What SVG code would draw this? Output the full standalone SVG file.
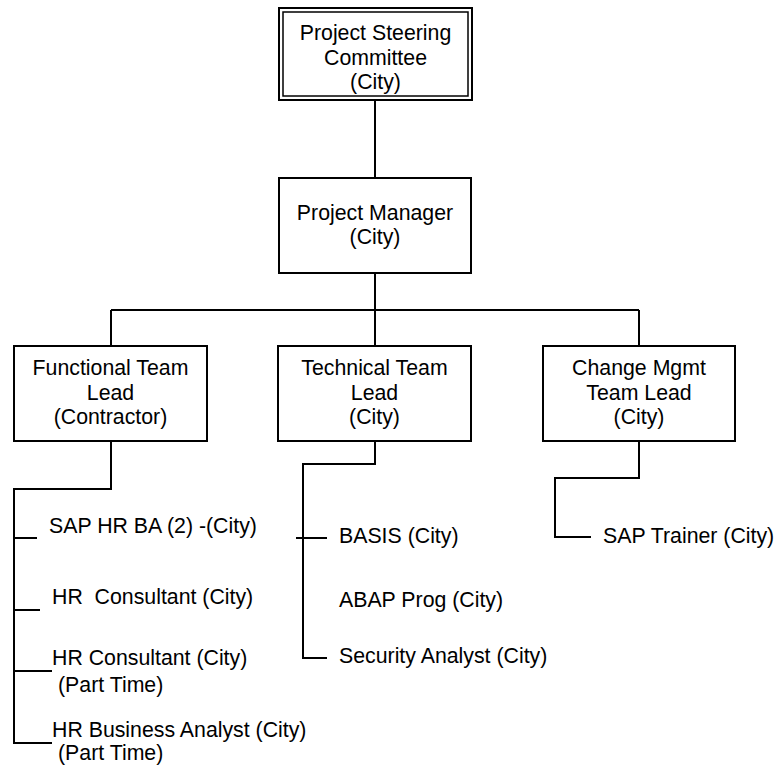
<svg xmlns="http://www.w3.org/2000/svg" width="776" height="765" viewBox="0 0 776 765">
<style>
.box{fill:#fff;stroke:#000;stroke-width:2}
.inner{fill:none;stroke:#000;stroke-width:1.5}
.t{font-family:"Liberation Sans",Arial,sans-serif;font-size:21.3px;fill:#000}
.c{text-anchor:middle}
.ln{fill:none;stroke:#000;stroke-width:2}
</style>
<rect width="776" height="765" fill="#fff"/>
<g id="connectors">
<path class="ln" d="M375 100V178"/>
<path class="ln" d="M375 273V310M111 310H639M111 310V346M375 310V346M639 310V346"/>
<path class="ln" d="M111 441V489H14V743H52M14 538H37M14 610H40M14 671H52"/>
<path class="ln" d="M375 441V464H303V658H327M296 538H327"/>
<path class="ln" d="M639 441V478H555V537H591"/>
</g>
<g id="steering">
<rect class="box" x="279" y="8" width="193" height="92"/>
<rect class="inner" x="283" y="12" width="185" height="84"/>
<text class="t c" x="375.5" y="40">Project Steering</text>
<text class="t c" x="375.5" y="64.5">Committee</text>
<text class="t c" x="375.5" y="89">(City)</text>
</g>
<g id="pm">
<rect class="box" x="279" y="178" width="192" height="95"/>
<text class="t c" x="375" y="220">Project Manager</text>
<text class="t c" x="375" y="244">(City)</text>
</g>
<g id="functional">
<rect class="box" x="14" y="346" width="193" height="95"/>
<text class="t c" x="110.5" y="375">Functional Team</text>
<text class="t c" x="110.5" y="399.5">Lead</text>
<text class="t c" x="110.5" y="424">(Contractor)</text>
</g>
<g id="technical">
<rect class="box" x="278" y="346" width="193" height="95"/>
<text class="t c" x="374.5" y="375">Technical Team</text>
<text class="t c" x="374.5" y="399.5">Lead</text>
<text class="t c" x="374.5" y="424">(City)</text>
</g>
<g id="change">
<rect class="box" x="543" y="346" width="192" height="95"/>
<text class="t c" x="639" y="375">Change Mgmt</text>
<text class="t c" x="639" y="399.5">Team Lead</text>
<text class="t c" x="639" y="424">(City)</text>
</g>
<g id="sap-hr-ba"><text class="t" x="49" y="533">SAP HR BA (2) -(City)</text></g>
<g id="hr-consultant"><text class="t" x="52" y="604" xml:space="preserve">HR  Consultant (City)</text></g>
<g id="hr-consultant-pt"><text class="t" x="52" y="665">HR Consultant (City)</text><text class="t" x="58" y="692">(Part Time)</text></g>
<g id="hr-ba-pt"><text class="t" x="52" y="737">HR Business Analyst (City)</text><text class="t" x="58" y="760">(Part Time)</text></g>
<g id="basis"><text class="t" x="339" y="543">BASIS (City)</text></g>
<g id="abap"><text class="t" x="339" y="607">ABAP Prog (City)</text></g>
<g id="security"><text class="t" x="339" y="663">Security Analyst (City)</text></g>
<g id="trainer"><text class="t" x="603" y="543">SAP Trainer (City)</text></g>
</svg>
